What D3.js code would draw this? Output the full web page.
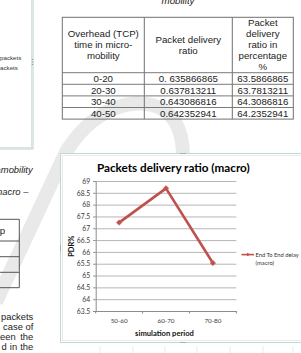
<!DOCTYPE html>
<html><head><meta charset="utf-8">
<script src="https://cdn.jsdelivr.net/npm/d3@7"></script>
<style>html,body{margin:0;padding:0;background:#fff;overflow:hidden}svg{display:block}</style>
</head><body>
<svg id="c" width="301" height="353"></svg>
<script>
// ---- chart data ----
const categories = ["50-60", "60-70", "70-80"];
const pdrValues = [67.24, 68.69, 65.53];
const yTicks = [63.5, 64, 64.5, 65, 65.5, 66, 66.5, 67, 67.5, 68, 68.5, 69];
const seriesName = ["End To End delay", "(macro)"];
const chartTitle = "Packets delivery ratio (macro)";
const xTitle = "simulation period";
const yTitle = "PDR%";

// ---- table data ----
const tableHeaders = [
  ["Overhead (TCP)", "time in micro-", "mobility"],
  ["Packet delivery", "ratio"],
  ["Packet", "delivery", "ratio in", "percentage", "%"]
];
const tableTime = ["0-20", "20-30", "30-40", "40-50"];
const tableRatio = ["0. 635866865", "0.637813211", "0.643086816", "0.642352941"];
const tablePercent = ["63.5866865", "63.7813211", "64.3086816", "64.2352941"];

// ---- surrounding page text ----
const topCaption = "mobility";
const leftCaption = ["amobility", "macro \u2013"];
const leftLegend = ["packets", "packets"];
const paragraph = [["packets"], ["case of"], ["een", "the"], ["d", "in", "the"]];

const svg = d3.select("#c");
const DOC = "'Liberation Sans', Arial, sans-serif";
const CH = "Lato, 'Noto Sans', sans-serif";
const ink = "#222";

// watermark
svg.append("path")
  .attr("d", "M 183 156 C 183 128, 172 110, 152 105 C 128 99, 92 110, 66 152 L -4 302")
  .attr("fill", "none").attr("stroke", "#e9e9e9").attr("stroke-width", 14);

// left partial chart frame
svg.append("line").attr("x1", 31.5).attr("x2", 31.5).attr("y1", 0).attr("y2", 148.5).attr("stroke", "#d6e4e1");
svg.append("line").attr("x1", 33).attr("x2", 33).attr("y1", 0).attr("y2", 149).attr("stroke", "#b9cfca");
svg.append("line").attr("x1", 0).attr("x2", 33).attr("y1", 149).attr("y2", 149).attr("stroke", "#b9cfca");
svg.append("line").attr("x1", 0).attr("x2", 31.5).attr("y1", 147.5).attr("y2", 147.5).attr("stroke", "#d6e4e1");
[59, 61.5, 64].forEach(yy => svg.append("rect").attr("x", 31.8).attr("y", yy).attr("width", 1.4).attr("height", 1).attr("fill", "#999"));
svg.selectAll(".lleg").data(leftLegend).join("text")
  .attr("x", (d, i) => i === 0 ? 0 : -3.4).attr("y", (d, i) => 59.5 + i * 10)
  .attr("font-family", DOC).attr("font-size", 6.2).attr("fill", "#333").text(d => d);

// top caption
svg.append("text").attr("x", 178).attr("y", 3.5).attr("text-anchor", "middle")
  .attr("font-family", DOC).attr("font-size", 9.7).attr("font-style", "italic").attr("fill", ink).text(topCaption);

// ---- main table ----
const tb = {x0: 62.3, x1: 144.3, x2: 232.3, x3: 293.3, top: 17.3, head: 72.7, rowH: 11.6};
const colX = [tb.x0, tb.x1, tb.x2, tb.x3];
const tbBottom = tb.head + tb.rowH * tableTime.length;
const tg = svg.append("g");
tg.append("rect").attr("x", tb.x0).attr("y", tb.top).attr("width", tb.x3 - tb.x0).attr("height", tbBottom - tb.top)
  .attr("fill", "none").attr("stroke", "#707070").attr("stroke-width", 1);
[tb.x1, tb.x2].forEach(x => tg.append("line").attr("x1", x).attr("x2", x).attr("y1", tb.top).attr("y2", tbBottom).attr("stroke", "#707070"));
tableTime.forEach((d, i) => tg.append("line").attr("x1", tb.x0).attr("x2", tb.x3)
  .attr("y1", tb.head + i * tb.rowH).attr("y2", tb.head + i * tb.rowH).attr("stroke", "#7a7a7a"));
const headMid = (tb.top + tb.head) / 2;
tableHeaders.forEach((lines, c) => {
  const cx = (colX[c] + colX[c + 1]) / 2;
  lines.forEach((t, k) => {
    tg.append("text").attr("x", cx).attr("y", headMid + (k - (lines.length - 1) / 2) * 11 + 3.4)
      .attr("text-anchor", "middle").attr("font-family", DOC).attr("font-size", 9.7).attr("fill", ink).text(t);
  });
});
[tableTime, tableRatio, tablePercent].forEach((col, c) => {
  const cx = (colX[c] + colX[c + 1]) / 2;
  col.forEach((t, r) => tg.append("text").attr("x", cx).attr("y", tb.head + r * tb.rowH + tb.rowH / 2 + 3.5)
    .attr("text-anchor", "middle").attr("font-family", DOC).attr("font-size", 9.7).attr("fill", ink).text(t));
});

// ---- left column text ----
svg.append("text").attr("x", 32.6).attr("y", 173.4).attr("text-anchor", "end").attr("font-family", DOC)
  .attr("font-size", 9.4).attr("font-style", "italic").attr("fill", ink).text(leftCaption[0]);
svg.append("text").attr("x", 28.4).attr("y", 195).attr("text-anchor", "end").attr("font-family", DOC)
  .attr("font-size", 9.4).attr("font-style", "italic").attr("fill", ink).text(leftCaption[1]);
const lt = [219.3, 241, 256.7, 272.3, 287.7];
lt.forEach(y => svg.append("line").attr("x1", 0).attr("x2", 19.3).attr("y1", y).attr("y2", y).attr("stroke", "#555"));
svg.append("line").attr("x1", 19.3).attr("x2", 19.3).attr("y1", lt[0]).attr("y2", lt[4]).attr("stroke", "#555");
svg.append("text").attr("x", -0.3).attr("y", 234).attr("font-family", DOC).attr("font-size", 9.7).attr("fill", ink).text("p");
paragraph.forEach((words, i) => {
  const y = 319.5 + i * 10;
  const right = 33.3;
  if (words.length === 1) {
    svg.append("text").attr("x", right).attr("y", y).attr("text-anchor", "end").attr("font-family", DOC)
      .attr("font-size", 9.4).attr("fill", ink).text(words[0]);
  } else {
    const left = i === 2 ? 0 : 1.5;
    const ts = words.map(w => svg.append("text").attr("y", y).attr("font-family", DOC).attr("font-size", 9.4).attr("fill", ink).text(w));
    const ws = ts.map(t => t.node().getComputedTextLength());
    const gap = (right - left - d3.sum(ws)) / (words.length - 1);
    let x = left;
    ts.forEach((t, k) => { t.attr("x", x); x += ws[k] + gap; });
  }
});

// faint cell grid below chart
[100, 133, 165, 197, 230, 263, 293].forEach(x => svg.append("line").attr("x1", x).attr("x2", x).attr("y1", 346).attr("y2", 353).attr("stroke", "#e4ecea"));

// ---- chart frame ----
svg.append("rect").attr("x", 60.5).attr("y", 153.5).attr("width", 260).attr("height", 189)
  .attr("fill", "#fff").attr("stroke", "#c2d6d2");
svg.append("rect").attr("x", 62.5).attr("y", 155.5).attr("width", 260).attr("height", 185)
  .attr("fill", "none").attr("stroke", "#e3edeb");
[[180.5, 153], [182.5, 153], [184.5, 153], [180.5, 342], [182.5, 342], [184.5, 342]].forEach(p =>
  svg.append("rect").attr("x", p[0]).attr("y", p[1]).attr("width", 1).attr("height", 1).attr("fill", "#888"));
[245.5, 247.5, 249.5].forEach(yy => svg.append("rect").attr("x", 60).attr("y", yy).attr("width", 1).attr("height", 1).attr("fill", "#888"));

// title
const title = svg.append("text").attr("x", 173.3).attr("y", 172.3).attr("text-anchor", "middle")
  .attr("font-family", CH).attr("font-weight", "bold").attr("font-size", 12).attr("fill", "#000").text(chartTitle);
{
  const w = title.node().getComputedTextLength();
  title.attr("font-size", 12 * 153 / w);
}

// scales
const plot = {l: 95.7, r: 236.3, t: 181, b: 311};
const x = d3.scaleBand().domain(categories).range([plot.l, plot.r]);
const y = d3.scaleLinear().domain([d3.min(yTicks), d3.max(yTicks)]).range([plot.b, plot.t]);

// gridlines
svg.append("g").attr("transform", `translate(${plot.l},0)`)
  .call(d3.axisLeft(y).tickValues(yTicks).tickSize(-(plot.r - plot.l)).tickFormat(""))
  .call(g => g.select(".domain").remove())
  .call(g => g.selectAll("line").attr("stroke", "#a3a3a3").attr("stroke-width", 0.8));

// y axis
svg.append("g").attr("transform", `translate(${plot.l},0)`)
  .call(d3.axisLeft(y).tickValues(yTicks).tickSize(2.5).tickPadding(3).tickFormat(d => String(d)))
  .call(g => g.select(".domain").attr("stroke", "#8c8c8c"))
  .call(g => g.selectAll("line").attr("stroke", "#8c8c8c"))
  .call(g => g.selectAll("text").attr("font-family", CH).attr("font-size", 6.8).attr("fill", "#3a3a3a"));

// x axis
svg.append("g").attr("transform", `translate(0,${plot.b})`)
  .call(d3.axisBottom(x).tickSize(0).tickPadding(8))
  .call(g => g.select(".domain").attr("stroke", "#8c8c8c"))
  .call(g => g.selectAll("text").attr("font-family", CH).attr("font-size", 6.3).attr("fill", "#3a3a3a"));
const bounds = categories.map(c => x(c)).concat([x.range()[1]]);
svg.append("g").selectAll("line").data(bounds).join("line")
  .attr("x1", d => d).attr("x2", d => d).attr("y1", plot.b).attr("y2", plot.b + 2.5).attr("stroke", "#8c8c8c");

// axis titles
svg.append("text").attr("x", 164.5).attr("y", 336).attr("text-anchor", "middle")
  .attr("font-family", CH).attr("font-weight", "bold").attr("font-size", 7.6).attr("fill", "#111").text(xTitle);
svg.append("text").attr("transform", "translate(74.3,246.3) rotate(-90)").attr("text-anchor", "middle")
  .attr("font-family", CH).attr("font-weight", "bold").attr("font-size", 7.4).attr("fill", "#111").text(yTitle);

// series
const red = "#c0504d";
const pts = categories.map((c, i) => [x(c) + x.bandwidth() / 2, y(pdrValues[i])]);
svg.append("path").datum(pts).attr("d", d3.line()).attr("fill", "none").attr("stroke", red)
  .attr("stroke-width", 2.6).attr("stroke-linejoin", "round");
const diamond = d3.symbol(d3.symbolSquare, 15);
svg.append("g").selectAll("path").data(pts).join("path")
  .attr("transform", d => `translate(${d[0]},${d[1]}) rotate(45)`).attr("d", diamond)
  .attr("fill", red).attr("stroke", "#c96a67").attr("stroke-width", 0.6);

// legend
const ly = 254.6;
svg.append("line").attr("x1", 241.5).attr("x2", 254).attr("y1", ly).attr("y2", ly).attr("stroke", red).attr("stroke-width", 1.6);
svg.append("path").attr("transform", `translate(247.8,${ly}) rotate(45)`).attr("d", d3.symbol(d3.symbolSquare, 6)).attr("fill", red);
svg.selectAll(".leg").data(seriesName).join("text")
  .attr("x", 255.5).attr("y", (d, i) => ly + 2 + i * 8.5)
  .attr("font-family", CH).attr("font-size", 5.8).attr("fill", "#333").text(d => d);
</script>
</body></html>
